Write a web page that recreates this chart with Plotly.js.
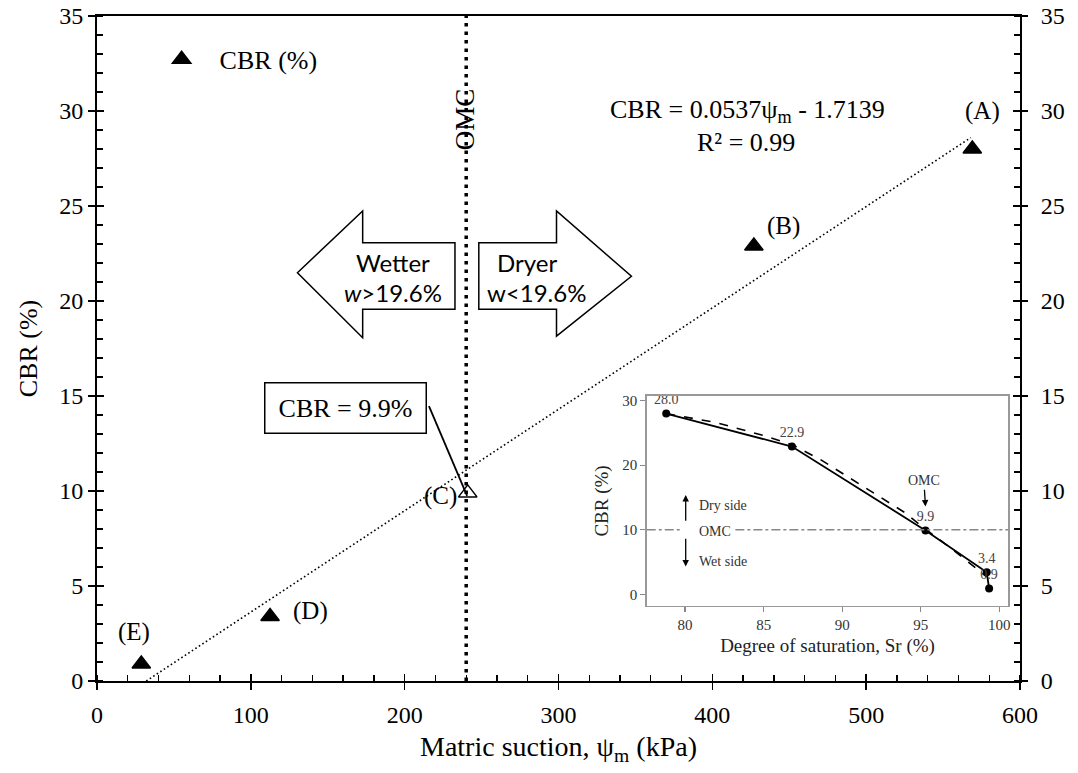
<!DOCTYPE html>
<html><head><meta charset="utf-8">
<script src="https://cdn.plot.ly/plotly-3.0.1.min.js"></script>
<style>body{margin:0;background:#fff}#chart{width:1078px;height:773px}</style>
</head><body><div id="chart"></div>
<script>
// ---- main chart data ----
const pointLabels = ['(A)', '(B)', '(C)', '(D)', '(E)'];
const suction = [569, 427, 241, 112.5, 28.8];      // kPa
const cbr = [28.0, 22.9, 9.9, 3.4, 0.9];           // %
const pointSymbols = ['triangle-up', 'triangle-up', 'triangle-up-open', 'triangle-up', 'triangle-up'];
const trendSuction = [32, 568];
const trendCbr = [0, 28.6];
const omcSuction = [240, 240];
const omcCbr = [0, 35];
// ---- inset data ----
const satSr = [78.8, 86.8, 95.3, 99.2, 99.35];
const satCbr = [28.0, 22.9, 9.9, 3.4, 0.9];
const satLabels = ['28.0', '22.9', '9.9', '3.4', '0.9'];
const fitSr = [78.8, 82, 85, 86.8, 88.6, 91.8, 93.9, 95.3, 97, 99.2];
const fitCbr = [28.0, 26.6, 24.6, 23.2, 20.9, 16.0, 12.8, 10.1, 7.0, 2.7];
const insetOmcCbr = 10;

const serif = 'Liberation Serif, Times New Roman, serif';
const sans = 'Lato, Open Sans, sans-serif';

const traces = [
  {x: trendSuction, y: trendCbr, mode: 'lines', line: {color: 'black', width: 1.6, dash: '1.6px,2.6px'}, showlegend: false, hoverinfo: 'skip'},
  {x: omcSuction, y: omcCbr, mode: 'lines', line: {color: 'black', width: 3.5, dash: '3.5px,5px'}, showlegend: false, hoverinfo: 'skip'},
  {x: suction, y: cbr, mode: 'markers', name: 'CBR (%)',
   marker: {symbol: pointSymbols, size: 16, color: 'black', line: {color: 'black', width: 1.5}}},
  // helper traces so the extra tick axes are drawn
  {x: [null], y: [null], xaxis: 'x', yaxis: 'y3', showlegend: false, hoverinfo: 'skip'},
  {x: [null], y: [null], xaxis: 'x', yaxis: 'y4', showlegend: false, hoverinfo: 'skip'},
  {x: [null], y: [null], xaxis: 'x', yaxis: 'y5', showlegend: false, hoverinfo: 'skip'},
  {x: [null], y: [null], xaxis: 'x4', yaxis: 'y', showlegend: false, hoverinfo: 'skip'},
  // inset
  {x: fitSr, y: fitCbr, xaxis: 'x2', yaxis: 'y2', mode: 'lines', line: {color: 'black', width: 1.6, dash: 'dash'}, showlegend: false, hoverinfo: 'skip'},
  {x: satSr, y: satCbr, xaxis: 'x2', yaxis: 'y2', mode: 'lines+markers+text', text: satLabels, textposition: 'top center',
   textfont: {family: serif, size: 14, color: '#444'},
   line: {color: 'black', width: 1.8}, marker: {symbol: 'circle', size: 8, color: 'black'}, showlegend: false}
];

const mainTickFont = {family: serif, size: 24, color: 'black'};
const yCommon = {range: [0, 35], tick0: 0, dtick: 5, showgrid: false, zeroline: false, fixedrange: true};

const annotations = [];
pointLabels.forEach((t, i) => {
  const shifts = [[10, 38], [30, 20], [-27, -3], [40, 5], [-7, 32]][i];
  annotations.push({x: suction[i], y: cbr[i], xref: 'x', yref: 'y', text: t, showarrow: false,
    xshift: shifts[0], yshift: shifts[1], font: {family: serif, size: 25, color: 'black'}});
});
annotations.push(
  {x: 422.7, y: 30.0, xref: 'x', yref: 'y', text: 'CBR = 0.0537ψ<sub>m</sub> - 1.7139', showarrow: false, font: {family: serif, size: 26, color: 'black'}},
  {x: 422, y: 28.35, xref: 'x', yref: 'y', text: 'R² = 0.99', showarrow: false, font: {family: serif, size: 26, color: 'black'}},
  {x: 239.2, y: 29.56, xref: 'x', yref: 'y', text: 'OMC', textangle: -90, showarrow: false, font: {family: serif, size: 27, color: 'black'}},
  {x: 192.4, y: 22.04, xref: 'x', yref: 'y', text: 'Wetter', showarrow: false, font: {family: sans, size: 24, color: 'black'}},
  {x: 192.4, y: 20.46, xref: 'x', yref: 'y', text: '<i>w</i>>19.6%', showarrow: false, font: {family: sans, size: 24, color: 'black'}},
  {x: 279.4, y: 22.04, xref: 'x', yref: 'y', text: 'Dryer', showarrow: false, font: {family: sans, size: 24, color: 'black'}},
  {x: 285.7, y: 20.46, xref: 'x', yref: 'y', text: 'w<19.6%', showarrow: false, font: {family: sans, size: 24, color: 'black'}},
  {x: 161.7, y: 14.39, xref: 'x', yref: 'y', text: 'CBR = 9.9%', showarrow: false, width: 158, height: 47,
   bordercolor: 'black', borderwidth: 1.5, borderpad: 1, bgcolor: 'white', font: {family: serif, size: 26, color: 'black'}},
  // inset annotations
  {x: 80.75, y: 13.7, xref: 'x2', yref: 'y2', text: 'Dry side', xanchor: 'left', showarrow: false, font: {family: serif, size: 14, color: '#333'}},
  {x: 80.75, y: 9.8, xref: 'x2', yref: 'y2', text: 'OMC', xanchor: 'left', showarrow: false, font: {family: serif, size: 14, color: '#333'}},
  {x: 80.75, y: 5.05, xref: 'x2', yref: 'y2', text: 'Wet side', xanchor: 'left', showarrow: false, font: {family: serif, size: 14, color: '#333'}},
  {x: 80.04, y: 15.4, ax: 80.04, ay: 11.0, xref: 'x2', yref: 'y2', axref: 'x2', ayref: 'y2', text: ' ', showarrow: true,
   arrowhead: 2, arrowsize: 1, arrowwidth: 1.3, arrowcolor: 'black', font: {size: 2}},
  {x: 80.04, y: 4.3, ax: 80.04, ay: 9.0, xref: 'x2', yref: 'y2', axref: 'x2', ayref: 'y2', text: ' ', showarrow: true,
   arrowhead: 2, arrowsize: 1, arrowwidth: 1.3, arrowcolor: 'black', font: {size: 2}},
  {x: 95.3, y: 13.6, ax: 95.2, ay: 17.6, xref: 'x2', yref: 'y2', axref: 'x2', ayref: 'y2', text: 'OMC', showarrow: true,
   arrowhead: 2, arrowsize: 1, arrowwidth: 1.3, arrowcolor: 'black', font: {family: serif, size: 14, color: '#333'}}
);

const shapes = [
  {type: 'path', xref: 'x', yref: 'y', layer: 'above',
   path: 'M130.3,21.49 L172.7,24.74 L172.7,23.07 L232.7,23.07 L232.7,19.56 L172.7,19.56 L172.7,18.07 Z',
   line: {color: 'black', width: 1.5}, fillcolor: 'white'},
  {type: 'path', xref: 'x', yref: 'y', layer: 'above',
   path: 'M248.2,23.07 L298.7,23.07 L298.7,24.74 L347.4,21.3 L298.7,18.15 L298.7,19.56 L248.2,19.56 Z',
   line: {color: 'black', width: 1.5}, fillcolor: 'white'},
  {type: 'line', xref: 'x', yref: 'y', x0: 215.8, y0: 14.47, x1: 240.6, y1: 9.74, line: {color: 'black', width: 1.8}},
  {type: 'line', xref: 'x2', yref: 'y2', x0: 77.56, x1: 79.7, y0: insetOmcCbr, y1: insetOmcCbr, line: {color: '#888', width: 1.3, dash: 'dashdot'}},
  {type: 'line', xref: 'x2', yref: 'y2', x0: 83.2, x1: 100.57, y0: insetOmcCbr, y1: insetOmcCbr, line: {color: '#888', width: 1.3, dash: 'dashdot'}}
];

const layout = {
  width: 1078, height: 773,
  margin: {l: 97, r: 58, t: 16, b: 92},
  paper_bgcolor: 'white', plot_bgcolor: 'white',
  font: {family: serif, size: 24, color: 'black'},
  showlegend: true,
  legend: {x: 0.0505, y: 0.97, xanchor: 'left', yanchor: 'top', bgcolor: 'rgba(0,0,0,0)', itemwidth: 66,
           font: {family: serif, size: 26, color: 'black'}},
  xaxis: {range: [0, 600], tick0: 0, dtick: 100, ticks: 'outside', ticklen: 7, tickwidth: 1.5, tickcolor: 'black',
          showline: true, linecolor: 'black', linewidth: 2, mirror: true, showgrid: false, zeroline: false,
          tickfont: mainTickFont, ticklabelstandoff: 4,
          minor: {dtick: 20, ticks: 'inside', ticklen: 6, tickwidth: 1.3, tickcolor: 'black', showgrid: false},
          title: {text: 'Matric suction, ψ<sub>m</sub> (kPa)', font: {family: serif, size: 28, color: 'black'}, standoff: 10}},
  yaxis: Object.assign({}, yCommon, {ticks: 'outside', ticklen: 7, tickwidth: 1.5, tickcolor: 'black',
          showline: true, linecolor: 'black', linewidth: 2, mirror: true, tickfont: mainTickFont,
          minor: {dtick: 1, ticks: 'inside', ticklen: 6, tickwidth: 1.3, tickcolor: 'black', showgrid: false},
          title: {text: 'CBR (%)', font: {family: serif, size: 26, color: 'black'}, standoff: 14}}),
  yaxis3: Object.assign({}, yCommon, {overlaying: 'y', side: 'right', anchor: 'x', ticks: 'outside', ticklen: 7, tickwidth: 1.5,
          tickcolor: 'black', showline: false, tickfont: mainTickFont, ticklabelstandoff: 8,
          minor: {dtick: 1, ticks: 'inside', ticklen: 6, tickwidth: 1.3, tickcolor: 'black', showgrid: false}}),
  yaxis4: Object.assign({}, yCommon, {overlaying: 'y', side: 'left', anchor: 'x', ticks: 'inside', ticklen: 7, tickwidth: 1.5,
          tickcolor: 'black', showline: false, showticklabels: false}),
  yaxis5: Object.assign({}, yCommon, {overlaying: 'y', side: 'right', anchor: 'x', ticks: 'inside', ticklen: 7, tickwidth: 1.5,
          tickcolor: 'black', showline: false, showticklabels: false}),
  xaxis4: {overlaying: 'x', anchor: 'y', side: 'bottom', range: [0, 600], tick0: 0, dtick: 100, ticks: 'inside', ticklen: 7,
          tickwidth: 1.5, tickcolor: 'black', showline: false, showticklabels: false, showgrid: false, zeroline: false},
  xaxis2: {domain: [0.5956, 0.9873], anchor: 'y2', range: [77.56, 100.57], tick0: 80, dtick: 5,
           ticks: 'outside', ticklen: 5, tickwidth: 1.2, tickcolor: '#888', showline: true, linecolor: '#999', linewidth: 1.5,
           mirror: true, showgrid: false, zeroline: false, tickfont: {family: serif, size: 15, color: '#333'},
           title: {text: 'Degree of saturation, Sr (%)', font: {family: serif, size: 19, color: '#222'}, standoff: 6}},
  yaxis2: {domain: [0.1128, 0.4286], anchor: 'x2', range: [-1.81, 30.73], tick0: 0, dtick: 10,
           ticks: 'outside', ticklen: 5, tickwidth: 1.2, tickcolor: '#888', showline: true, linecolor: '#999', linewidth: 1.5,
           mirror: true, showgrid: false, zeroline: false, tickfont: {family: serif, size: 15, color: '#333'},
           title: {text: 'CBR (%)', font: {family: serif, size: 19, color: '#222'}, standoff: 8}},
  annotations: annotations,
  shapes: shapes
};

Plotly.newPlot('chart', traces, layout, {displayModeBar: false, staticPlot: true});
</script></body></html>
